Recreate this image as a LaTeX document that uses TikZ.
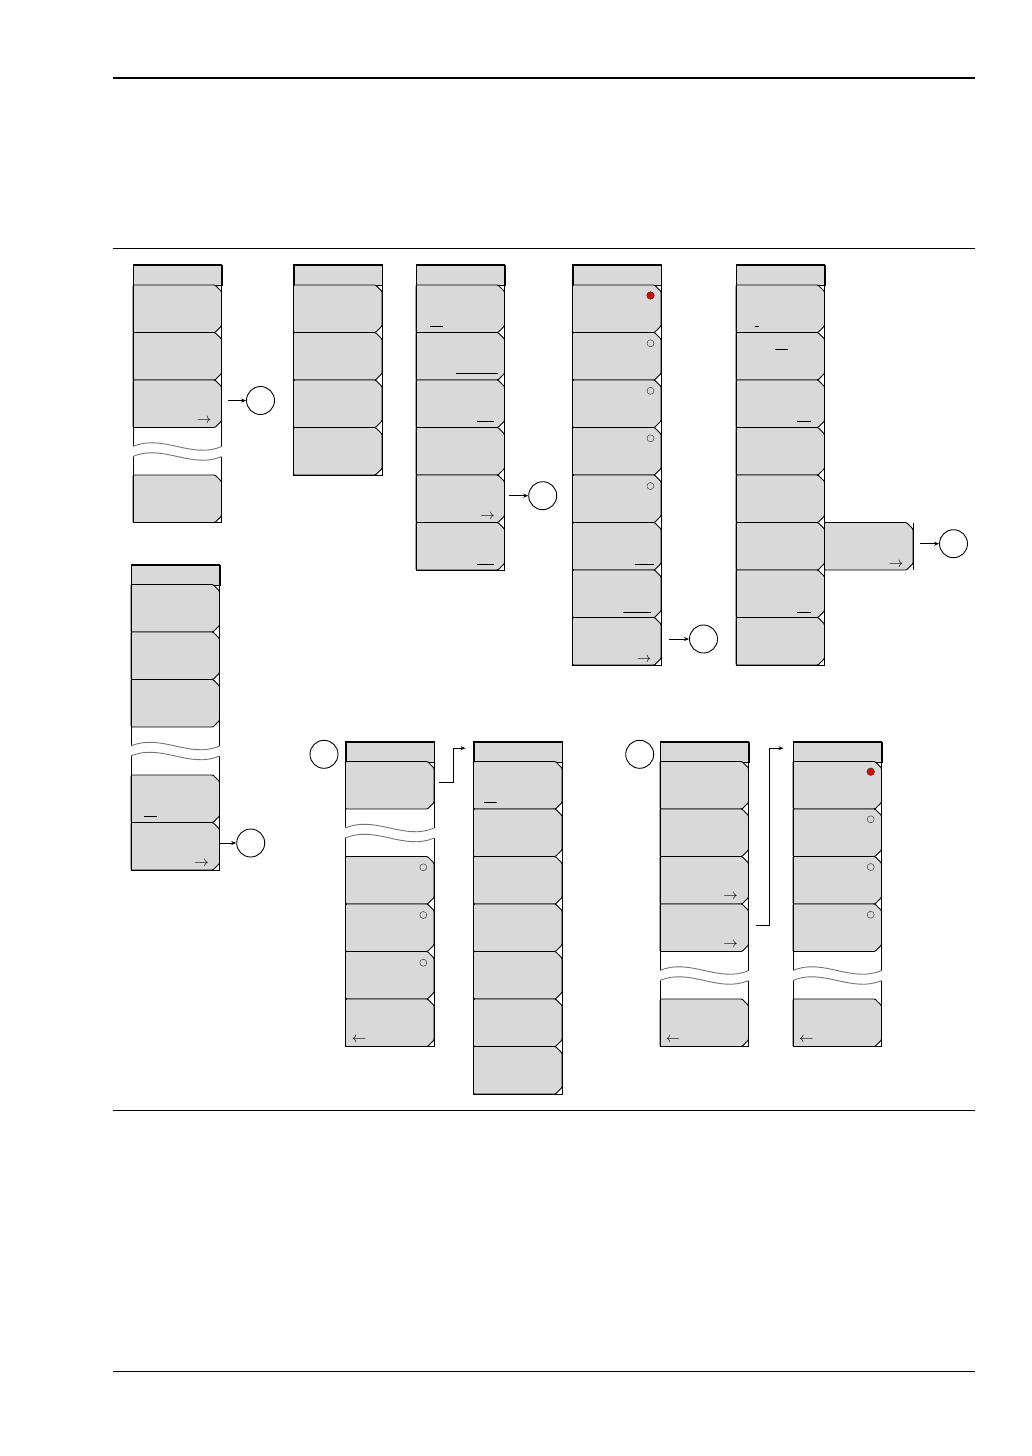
\documentclass[tikz,border=0pt]{standalone}
\usetikzlibrary{arrows.meta}

\definecolor{keygray}{RGB}{217,217,217}
\definecolor{dotred}{RGB}{215,10,10}

\tikzset{
  keyshape/.style={draw=black, fill=keygray, line width=0.9pt, rounded corners=1pt},
  keyslot/.style={anchor=north west, minimum width=88.5pt, minimum height=47.5pt, inner sep=0pt},
  hdr/.style={anchor=north west, draw=black, fill=keygray, line width=0.9pt,
    minimum width=88.5pt, minimum height=20.5pt, inner sep=0pt},
  frame/.style={draw=black, line width=0.9pt},
  rule/.style={line width=0.9pt},
  wave/.style={draw=black!55, line width=0.9pt},
  jump/.style={circle, draw=black, line width=0.9pt, minimum size=28pt, inner sep=0pt},
  arr/.style={-{Stealth[length=5pt,width=4pt]}, line width=0.8pt},
  uline/.style={line width=0.8pt},
  glyph/.style={inner sep=0pt, font=\fontsize{14}{14}\selectfont},
  radio/.style={circle, draw=black!75, line width=0.5pt, minimum size=7pt, inner sep=0pt},
  radioon/.style={radio, draw=black!80, fill=dotred, minimum size=7.5pt}
}

% soft key: name, left x, top y
\newcommand{\softkey}[3]{%
  \draw[keyshape] ({#2+82},{#3}) -- ({#2},{#3}) -- ({#2},{#3+47.5}) -- ({#2+82},{#3+47.5})
    -- ({#2+88.5},{#3+41}) -- ({#2+88.5},{#3+6.5}) -- cycle;
  \node[keyslot] (#1) at ({#2},{#3}) {};}

% break in a menu column: left x, right x, middle y
\newcommand{\keybreak}[3]{%
  \fill[white] ({#1-1},{#3-5}) .. controls ({#1+29.5},{#3-18}) and ({#1+59},{#3+8}) .. ({#2+1},{#3-5})
    -- ({#2+1},{#3+5}) .. controls ({#1+59},{#3+18}) and ({#1+29.5},{#3-8}) .. ({#1-1},{#3+5}) -- cycle;
  \draw[wave] ({#1},{#3-5}) .. controls ({#1+29.5},{#3-18}) and ({#1+59},{#3+8}) .. ({#2},{#3-5});
  \draw[wave] ({#1},{#3+5}) .. controls ({#1+29.5},{#3-8}) and ({#1+59},{#3+18}) .. ({#2},{#3+5});}

\begin{document}
\begin{tikzpicture}[x=1pt,y=-1pt]
    % Page
    \fill[white] (0,0) rectangle (1032,1456);
    \useasboundingbox (0,0) rectangle (1032,1456);

    % Rules
    \draw[line width=2pt] (113,78) -- (975,78);
    \draw[rule] (113,248.5) -- (975,248.5);
    \draw[rule] (113,1110) -- (975,1110);
    \draw[rule] (113,1371) -- (975,1371);

    % Menu 1
    \node[hdr] (m1h) at (133,264.5) {};
    \foreach \ty [count=\i] in {285,332.5,380,475} {\softkey{m1k\i}{133}{\ty}}
    \draw[frame] (m1h.north west) rectangle (m1k4.south east);
    \keybreak{133}{221.5}{451.5}
    \node[glyph] (g1) at (204,421) {$\rightarrow$};
    \node[jump] (jA) at (260.5,400.5) {};
    \draw[arr, shorten <=6pt] (m1k3.east |- jA) -- (jA);

    % Menu 2
    \node[hdr] (m2h) at (293.5,264.5) {};
    \foreach \ty [count=\i] in {285,332.5,380,427.5} {\softkey{m2k\i}{293.5}{\ty}}
    \draw[frame] (m2h.north west) rectangle (m2k4.south east);

    % Menu 3
    \node[hdr] (m3h) at (416,264.5) {};
    \foreach \ty [count=\i] in {285,332.5,380,427.5,475,522.5} {\softkey{m3k\i}{416}{\ty}}
    \draw[frame] (m3h.north west) rectangle (m3k6.south east);
    \draw[uline] (430,326) -- (443,326);
    \draw[uline] (456,373) -- (498,373);
    \draw[uline] (477,421) -- (494,421);
    \node[glyph] (g2) at (487.5,516.5) {$\rightarrow$};
    \draw[uline] (477,564.5) -- (494,564.5);
    \node[jump] (jB) at (542.7,495.7) {};
    \draw[arr, shorten <=4.5pt] (m3k5.east |- jB) -- (jB);

    % Menu 4
    \node[hdr] (m4h) at (572.5,264.5) {};
    \foreach \ty [count=\i] in {285,332.5,380,427.5,475,522.5,570,617.5} {\softkey{m4k\i}{572.5}{\ty}}
    \draw[frame] (m4h.north west) rectangle (m4k8.south east);
    \node[radioon] (r4a) at (650.5,295.5) {};
    \foreach \ty [count=\i] in {343.3,390.8,438.3,486} {\node[radio] (r4b\i) at (650.5,\ty) {};}
    \draw[uline] (634.5,564.5) -- (654,564.5);
    \draw[uline] (623,612.5) -- (651,612.5);
    \node[glyph] (g3) at (644,659.5) {$\rightarrow$};
    \node[jump] (jC) at (703.5,639) {};
    \draw[arr, shorten <=8pt] (m4k8.east |- jC) -- (jC);

    % Menu 5
    \node[hdr] (m5h) at (736,264.5) {};
    \foreach \ty [count=\i] in {285,332.5,380,427.5,475,522.5,570,617.5} {\softkey{m5k\i}{736}{\ty}}
    \draw[frame] (m5h.north west) rectangle (m5k8.south east);
    \draw[uline] (754.5,326) -- (758.5,326);
    \draw[uline] (775,349.5) -- (788,349.5);
    \draw[uline] (797,421) -- (811,421);
    \draw[uline] (797,612.5) -- (811,612.5);
    % side key
    \softkey{m5s}{824.5}{522.5}
    \draw[frame] (m5s.north east) -- (m5s.south east);
    \node[glyph] (g4) at (896,564.5) {$\rightarrow$};
    \node[jump] (jD) at (953.5,543.7) {};
    \draw[arr, shorten <=6.5pt] (m5s.east |- jD) -- (jD);

    % Menu 6
    \node[hdr] (m6h) at (131,564.5) {};
    \foreach \ty [count=\i] in {584.5,632,679.5,775,822.5} {\softkey{m6k\i}{131}{\ty}}
    \draw[frame] (m6h.north west) rectangle (m6k5.south east);
    \keybreak{131}{219.5}{751}
    \draw[uline] (144,816) -- (157,816);
    \node[glyph] (g5) at (201.5,864) {$\rightarrow$};
    \node[jump] (jE) at (250.7,843) {};
    \draw[arr] (m6k5.east |- jE) -- (jE);

    % Menu 7
    \node[jump] (jF) at (324,754.3) {};
    \node[hdr] (m7h) at (345.5,741.5) {};
    \foreach \ty [count=\i] in {761.5,856.5,904,951.5,999} {\softkey{m7k\i}{345.5}{\ty}}
    \draw[frame] (m7h.north west) rectangle (m7k5.south east);
    \keybreak{345.5}{434}{833}
    \foreach \ty [count=\i] in {867.3,915,962.7} {\node[radio] (r7\i) at (423.3,\ty) {};}
    \node[glyph] (g6) at (359,1040.3) {$\leftarrow$};

    % Menu 8
    \node[hdr] (m8h) at (473.5,741.5) {};
    \foreach \ty [count=\i] in {761.5,809,856.5,904,951.5,999,1046.5} {\softkey{m8k\i}{473.5}{\ty}}
    \draw[frame] (m8h.north west) rectangle (m8k7.south east);
    \draw[uline] (483.5,802) -- (497,802);
    \draw[arr, shorten >=8pt] ([xshift=5pt,yshift=3pt]m7k1.east) -- ++(14,0) |- ([yshift=4pt]m8h.west);

    % Menu 9
    \node[jump] (jG) at (639.7,754.3) {};
    \node[hdr] (m9h) at (660,741.5) {};
    \foreach \ty [count=\i] in {761.5,809,856.5,904,999} {\softkey{m9k\i}{660}{\ty}}
    \draw[frame] (m9h.north west) rectangle (m9k5.south east);
    \keybreak{660}{748.5}{975.5}
    \node[glyph] (g7) at (730.5,897.3) {$\rightarrow$};
    \node[glyph] (g8) at (730.5,945) {$\rightarrow$};
    \node[glyph] (g9) at (673,1040.3) {$\leftarrow$};

    % Menu 10
    \node[hdr] (m10h) at (793,741.5) {};
    \foreach \ty [count=\i] in {761.5,809,856.5,904,999} {\softkey{m10k\i}{793}{\ty}}
    \draw[frame] (m10h.north west) rectangle (m10k5.south east);
    \keybreak{793}{881.5}{975.5}
    \node[radioon] (r10a) at (870.7,771.7) {};
    \foreach \ty [count=\i] in {819.3,867,914.7} {\node[radio] (r10b\i) at (870.7,\ty) {};}
    \node[glyph] (g10) at (806.3,1040.3) {$\leftarrow$};
    \draw[arr, shorten >=9.5pt] ([xshift=7.5pt,yshift=3pt]m9k4.east) -- ++(12.5,0) |- ([yshift=4pt]m10h.west);
\end{tikzpicture}
\end{document}
